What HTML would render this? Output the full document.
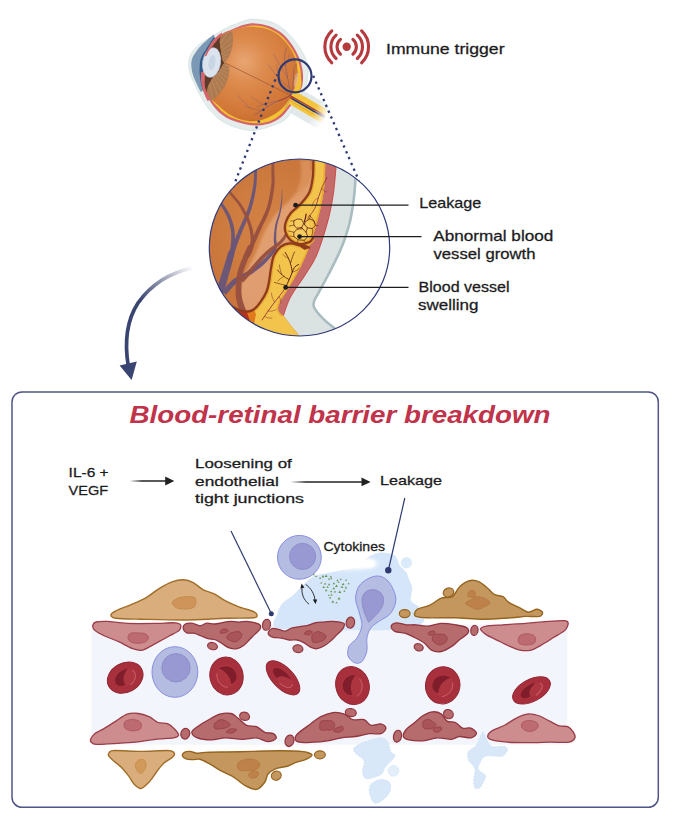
<!DOCTYPE html>
<html>
<head>
<meta charset="utf-8">
<title>Blood-retinal barrier breakdown</title>
<style>
html,body{margin:0;padding:0;background:#fff;}
body{width:676px;height:820px;overflow:hidden;font-family:"Liberation Sans",sans-serif;}
svg{display:block;}
text{font-family:"Liberation Sans",sans-serif;fill:#1c1c1e;stroke:#1c1c1e;stroke-width:0.28px;}
.t14{font-size:14.6px;}
.t13{font-size:13.6px;}
.t12{font-size:13.2px;}
.title{font-size:23.2px;font-weight:bold;font-style:italic;fill:#c0334a;stroke:none;}
</style>
</head>
<body>
<svg width="676" height="820" viewBox="0 0 676 820">
<defs>
<linearGradient id="gcurve" gradientUnits="userSpaceOnUse" x1="193" y1="268" x2="140" y2="300">
<stop offset="0" stop-color="#3a4470" stop-opacity="0"/>
<stop offset="0.35" stop-color="#3a4470" stop-opacity="0.35"/>
<stop offset="1" stop-color="#3a4470" stop-opacity="1"/>
</linearGradient>
<clipPath id="zc"><ellipse cx="299.5" cy="247.5" rx="90.2" ry="88.5"/></clipPath>
<radialGradient id="gor" gradientUnits="userSpaceOnUse" cx="275" cy="230" r="75">
<stop offset="0" stop-color="#d48246"/><stop offset="0.6" stop-color="#ce7c40"/><stop offset="1" stop-color="#c9753b"/>
</radialGradient>
<filter id="b2" x="-20%" y="-20%" width="140%" height="140%"><feGaussianBlur stdDeviation="1.6"/></filter>
<filter id="b1" x="-20%" y="-20%" width="140%" height="140%"><feGaussianBlur stdDeviation="0.8"/></filter><radialGradient id="geye" gradientUnits="userSpaceOnUse" cx="244" cy="62" r="62">
<stop offset="0" stop-color="#e8a672"/><stop offset="0.35" stop-color="#dd8b4e"/><stop offset="0.8" stop-color="#d27838"/><stop offset="1" stop-color="#c96d30"/>
</radialGradient>
<linearGradient id="gnerve" gradientUnits="userSpaceOnUse" x1="313.2" y1="111.5" x2="325.3" y2="118.5">
<stop offset="0" stop-color="#fff" stop-opacity="0"/><stop offset="1" stop-color="#fff" stop-opacity="1"/>
</linearGradient>
<clipPath id="eyeclip"><path id="eyeout" d="M0 0"/></clipPath><filter id="b3" x="-30%" y="-30%" width="160%" height="160%"><feGaussianBlur stdDeviation="2.2"/></filter>
</defs>

<!-- ================= PANEL BOX ================= -->
<rect x="12" y="391.9" width="646.3" height="415.4" rx="10" ry="10" fill="#ffffff" stroke="#4f5585" stroke-width="1.5"/>

<!-- ================= TOP: EYE ================= -->
<g id="eye">
<g>
<path d="M292.9 84.6 L333.6 108.1 L320.7 130.5 L280.0 107.0 Z" fill="#e1e9ea"/>
</g>
<path d="M251.6 19.3 C256.6 19.2 264.4 19.9 270.0 21.7 C275.6 23.5 280.5 26.6 285.0 30.3 C289.5 34.0 293.6 39.3 296.9 43.7 C300.2 48.1 303.0 52.7 304.9 56.9 C306.8 61.1 307.6 65.2 308.0 69.0 C308.4 72.8 308.0 76.2 307.5 79.4 C307.0 82.6 306.2 85.4 305.0 88.1 C303.8 90.8 302.7 91.7 300.5 95.5 C298.3 99.3 294.3 106.9 291.6 111.0 C288.9 115.1 288.0 117.7 284.3 120.3 C280.6 122.9 274.5 124.9 269.6 126.6 C264.8 128.2 260.0 129.8 255.2 130.2 C250.4 130.6 246.0 130.2 240.6 128.8 C235.2 127.4 228.1 124.9 223.0 121.8 C217.9 118.7 213.6 114.2 209.9 110.1 C206.2 105.9 203.6 101.1 201.1 96.9 C198.6 92.8 197.0 89.1 195.2 85.2 C193.4 81.3 191.2 77.2 190.1 73.5 C189.0 69.8 188.4 66.7 188.7 63.3 C188.9 59.9 189.8 56.2 191.6 53.0 C193.4 49.8 196.3 47.0 199.6 44.3 C202.9 41.6 206.9 39.6 211.3 36.9 C215.7 34.2 221.2 30.6 226.0 28.2 C230.8 25.8 235.7 24.0 240.0 22.5 C244.3 21.0 246.6 19.4 251.6 19.3 Z" fill="#e4ecec" stroke="#d3dfdf" stroke-width="0.8"/>
<path d="M213.6 34.4 C211.5 36.2 204.5 41.9 201.2 45.4 C197.9 48.9 195.2 52.4 193.6 55.4 C191.9 58.4 191.5 60.2 191.3 63.3 C191.1 66.4 191.7 70.3 192.6 73.8 C193.5 77.2 195.4 81.0 196.8 84.0 C198.2 87.0 200.1 90.7 200.8 92.0 L204.0 90.0 C203.5 88.2 201.8 82.9 201.2 79.4 C200.6 75.9 200.2 72.5 200.4 69.1 C200.6 65.7 201.5 62.1 202.6 58.9 C203.7 55.7 204.8 53.5 207.0 50.1 C209.2 46.7 214.1 40.4 215.5 38.5 Z" fill="#7b98b4"/>
<path d="M213.6 37.6 C212.4 39.4 208.7 45.1 206.6 48.4 C204.5 51.7 202.3 54.4 201.2 57.4 C200.0 60.4 199.9 63.0 199.7 66.2 C199.5 69.4 199.6 73.4 199.9 76.6 C200.2 79.8 200.9 83.2 201.5 85.6 C202.1 88.0 203.1 90.1 203.4 91.0 L209 86 L207 62 L217 39 Z" fill="#2f5a88"/>
<path d="M255.0 23.4 C259.3 23.6 264.9 24.4 269.6 26.2 C274.3 28.0 279.1 30.7 283.2 34.3 C287.3 37.9 291.2 43.5 294.0 47.8 C296.8 52.1 298.7 56.5 300.1 60.3 C301.5 64.1 302.1 67.4 302.6 70.6 C303.1 73.8 303.2 76.5 303.0 79.4 C302.8 82.3 302.7 85.0 301.5 88.1 C300.3 91.2 297.9 94.9 296.0 98.0 C294.1 101.1 292.6 103.5 290.1 106.7 C287.7 109.9 284.7 114.2 281.3 117.0 C277.9 119.8 274.0 122.2 269.6 123.6 C265.2 125.0 259.8 125.7 255.0 125.6 C250.2 125.5 245.4 124.3 240.6 123.0 C235.8 121.7 230.3 120.1 226.0 117.5 C221.7 114.9 217.7 111.2 214.5 107.5 C211.3 103.8 208.8 99.1 207.0 95.0 C205.2 90.9 204.1 87.1 203.4 83.0 C202.7 78.9 202.9 74.4 203.0 70.6 C203.1 66.8 203.4 63.6 204.2 60.3 C205.0 57.0 206.3 54.2 208.0 51.0 C209.7 47.8 211.9 43.8 214.2 41.0 C216.5 38.2 218.9 36.0 222.0 34.0 C225.1 32.0 229.3 30.5 233.0 29.0 C236.7 27.5 240.3 25.7 244.0 24.8 C247.7 23.9 250.7 23.2 255.0 23.4 Z" fill="#d5656a"/>
<path d="M255.0 25.6 C259.2 25.8 264.5 26.7 269.0 28.4 C273.5 30.1 278.0 32.6 281.8 36.0 C285.6 39.4 289.3 44.7 292.0 48.8 C294.7 52.9 296.6 57.0 298.0 60.6 C299.4 64.2 300.0 67.5 300.5 70.6 C301.0 73.7 300.9 76.7 300.8 79.4 C300.7 82.1 300.7 84.0 299.6 87.0 C298.5 90.0 295.9 94.4 294.0 97.5 C292.1 100.6 290.8 102.6 288.5 105.5 C286.2 108.4 283.2 112.3 280.0 115.0 C276.8 117.7 273.2 120.0 269.0 121.4 C264.8 122.8 259.7 123.4 255.0 123.3 C250.3 123.2 245.6 122.1 241.0 120.8 C236.4 119.5 231.6 118.1 227.5 115.6 C223.4 113.1 219.2 108.9 216.5 106.0 C213.8 103.1 211.8 100.7 211.0 98.0 C210.2 95.3 211.3 96.3 212.0 90.0 C212.7 83.7 213.7 68.7 215.0 60.0 C216.3 51.3 217.2 42.8 220.0 38.0 C222.8 33.2 228.0 32.8 232.0 31.0 C236.0 29.2 240.2 27.9 244.0 27.0 C247.8 26.1 250.8 25.4 255.0 25.6 Z" fill="#f2c232"/>
<path d="M298 72 C302 76 302.5 85 299.5 91 L294 96 L292 84 Z" fill="#f2c232"/>
<path d="M251.6 26.8 C255.4 27.0 261.4 27.4 266.0 28.8 C270.6 30.2 275.1 32.5 279.0 35.5 C282.9 38.5 286.5 42.9 289.3 46.8 C292.1 50.7 294.2 55.1 295.6 59.0 C297.0 62.9 297.2 66.5 297.4 70.0 C297.6 73.5 297.5 76.3 296.8 80.0 C296.1 83.7 295.0 88.0 293.2 92.0 C291.4 96.0 288.7 100.6 286.0 104.0 C283.3 107.4 280.3 110.2 277.0 112.6 C273.7 115.0 269.8 117.0 266.0 118.4 C262.2 119.8 258.2 121.0 254.0 121.2 C249.8 121.4 245.2 120.6 241.0 119.4 C236.8 118.2 232.7 116.4 229.0 114.2 C225.3 112.0 221.8 108.5 219.0 106.0 C216.2 103.5 214.0 101.9 212.0 99.4 C210.0 96.9 207.6 93.4 207.0 91.0 C206.4 88.6 207.4 87.4 208.4 85.2 C209.4 83.0 211.1 80.1 212.8 77.9 C214.5 75.7 216.8 74.4 218.6 72.0 C220.4 69.6 223.2 65.5 223.8 63.3 C224.4 61.1 222.8 61.3 222.3 58.9 C221.8 56.5 221.3 51.5 220.8 48.6 C220.3 45.7 219.3 43.5 219.4 41.3 C219.5 39.1 219.3 37.4 221.6 35.5 C223.9 33.6 229.7 31.4 233.3 30.0 C236.9 28.6 239.9 27.9 243.0 27.4 C246.1 26.9 247.8 26.6 251.6 26.8 Z" fill="url(#geye)"/>
<path d="M294.5 90.8 L331.3 112.1 L324.2 124.4 L287.4 103.1 Z" fill="#f3c53e"/>
<path d="M289.3 99.8 L326.1 121.1 L325.7 121.8 L288.9 100.5 Z" fill="#e2a92e"/>
<path d="M292.2 95.9 L328.6 116.9 L328.0 117.9 L291.6 96.9 Z" fill="#a9352d"/>
<path d="M291.5 97.2 L327.8 118.2 L326.9 119.8 L290.5 98.8 Z" fill="#2c3a7a"/>
<path d="M321.2 97.7 L340.2 108.2 L324.2 135.9 L305.2 125.4 Z" fill="url(#gnerve)"/>
<circle cx="291.6" cy="97.6" r="1.6" fill="#b8401c"/>
<path d="M214.3 39.5 L221.6 35.5 L220.2 46 L222.6 59 L224.5 62.8 L219 71.5 L212.5 78 L208 86 L207 93 L204.5 89 L205 72 L208 52 Z" fill="#5e3b29"/>
<path d="M221.6 35.5 C223.0 34.3 230.5 31.1 231.8 31.4 C233.1 31.7 232.9 36.3 233.0 38.0 C233.1 39.7 232.9 43.9 232.5 46.0 C232.1 48.1 230.4 54.1 229.5 56.0 C228.6 57.9 225.3 62.1 224.5 62.4 C223.7 62.7 222.7 60.5 222.3 58.9 C221.9 57.3 221.1 50.7 220.8 48.6 C220.5 46.5 219.5 42.8 219.6 41.3 C219.7 39.8 220.2 36.7 221.6 35.5 Z" fill="#ae7a50"/>
<path d="M224.0 63.4 C225.2 62.9 228.7 66.2 229.2 67.7 C229.7 69.2 229.0 73.9 228.5 76.0 C228.0 78.1 226.1 83.9 225.0 86.0 C223.9 88.1 220.5 92.3 219.0 94.0 C217.5 95.7 213.4 100.7 212.0 100.5 C210.6 100.3 207.6 93.8 207.2 92.0 C206.8 90.2 207.9 86.8 208.6 85.2 C209.3 83.6 211.6 79.4 212.8 77.9 C214.0 76.4 217.3 73.7 218.6 72.0 C219.9 70.3 222.8 63.9 224.0 63.4 Z" fill="#ae7a50"/>
<clipPath id="fanu"><path d="M221.6 35.5 C223.0 34.3 230.5 31.1 231.8 31.4 C233.1 31.7 232.9 36.3 233.0 38.0 C233.1 39.7 232.9 43.9 232.5 46.0 C232.1 48.1 230.4 54.1 229.5 56.0 C228.6 57.9 225.3 62.1 224.5 62.4 C223.7 62.7 222.7 60.5 222.3 58.9 C221.9 57.3 221.1 50.7 220.8 48.6 C220.5 46.5 219.5 42.8 219.6 41.3 C219.7 39.8 220.2 36.7 221.6 35.5 Z"/></clipPath><clipPath id="fanl"><path d="M224.0 63.4 C225.2 62.9 228.7 66.2 229.2 67.7 C229.7 69.2 229.0 73.9 228.5 76.0 C228.0 78.1 226.1 83.9 225.0 86.0 C223.9 88.1 220.5 92.3 219.0 94.0 C217.5 95.7 213.4 100.7 212.0 100.5 C210.6 100.3 207.6 93.8 207.2 92.0 C206.8 90.2 207.9 86.8 208.6 85.2 C209.3 83.6 211.6 79.4 212.8 77.9 C214.0 76.4 217.3 73.7 218.6 72.0 C219.9 70.3 222.8 63.9 224.0 63.4 Z"/></clipPath>
<path d="M209.8 55.4 L224.8 27.2 M210.8 56.1 L229.8 30.3 M211.7 56.8 L234.3 34.2 M212.4 57.7 L238.2 38.7 M213.1 58.7 L241.3 43.7 M213.5 59.8 L243.7 49.1 M213.9 61.0 L245.3 54.9 M214.0 62.2 L246.0 60.8" clip-path="url(#fanu)" fill="none" stroke="#c79e78" stroke-width="0.6" opacity="0.75"/>
<path d="M213.9 63.6 L251.6 68.9 M213.7 64.8 L250.0 75.9 M213.2 66.0 L247.3 82.7 M212.6 67.1 L243.7 88.9 M211.8 68.1 L239.1 94.5 M210.8 68.9 L233.7 99.2 M209.8 69.6 L227.6 103.1 M208.6 70.1 L221.0 106.0 M207.4 70.4 L214.0 107.8 M206.1 70.5 L206.8 108.5" clip-path="url(#fanl)" fill="none" stroke="#c79e78" stroke-width="0.6" opacity="0.75"/>
<g transform="rotate(9 211.6 62.5)"><ellipse cx="211.6" cy="62.5" rx="8.9" ry="14.9" fill="#dbe4ee" stroke="#c3cfdd" stroke-width="0.7"/><ellipse cx="212" cy="62.5" rx="3.4" ry="7.5" fill="#c7d2e3" opacity="0.9"/></g>
<path d="M222 32.5 C219 34.5 216 37 213.4 39.8 C210.5 43.5 207.8 48.5 205.6 53.5 L204.2 56.5 L206.6 55.8 C208 52 210 48.8 212.4 46.8 C213.4 44.4 215 42.6 216.4 41.2 C217.6 39 219.4 37.4 221.4 36.2 Z" fill="#d5656a"/>
<path d="M203 72 C202.8 78 203.8 84.5 206 90 C207.2 93.5 208.6 96.6 210.4 99.4 L207.6 101 C204.6 95.5 202.4 89.5 201.4 83.5 C200.8 79.5 200.8 75.5 201.2 72 Z" fill="#d5656a"/>
<ellipse cx="296.2" cy="80" rx="1.8" ry="7.5" fill="#eab58a" opacity="0.85" transform="rotate(8 296 80)"/>
<line x1="224.5" y1="62.6" x2="291" y2="95.5" stroke="#9a5733" stroke-width="0.7"/>
<path d="M291 95 C289 84 286 72 284.5 59 C284.8 54 285.6 51 286.4 48" fill="none" stroke="#5a4a8c" stroke-width="0.7" stroke-linecap="round" opacity="0.6"/>
<path d="M287.8 78 C283 70 278 62 274 54.5" fill="none" stroke="#5a4a8c" stroke-width="0.5" stroke-linecap="round" opacity="0.6"/>
<path d="M285.5 66 C287.5 62 288.5 59 288.8 55" fill="none" stroke="#5a4a8c" stroke-width="0.4" stroke-linecap="round" opacity="0.6"/>
<path d="M289.5 88 C282 82 274 73 268.2 64.7" fill="none" stroke="#5a4a8c" stroke-width="0.5" stroke-linecap="round" opacity="0.6"/>
<path d="M280 78.5 C278 73 276.5 69 276.5 65" fill="none" stroke="#5a4a8c" stroke-width="0.4" stroke-linecap="round" opacity="0.6"/>
<path d="M291 95 C293 88 294 80 293.5 72 C293.8 68 295 66 296.5 64" fill="none" stroke="#5a4a8c" stroke-width="0.6" stroke-linecap="round" opacity="0.6"/>
<path d="M293.6 80 C296 78 297 75 297.5 72" fill="none" stroke="#5a4a8c" stroke-width="0.4" stroke-linecap="round" opacity="0.6"/>
<path d="M291 95 C286 98 281 100 277 101.3 C271 104.5 266 107.5 262.3 110.1 C259 112 257 113.5 255 114.5" fill="none" stroke="#5a4a8c" stroke-width="0.7" stroke-linecap="round" opacity="0.6"/>
<path d="M277 101.3 C270 102 263 104 257 107" fill="none" stroke="#5a4a8c" stroke-width="0.5" stroke-linecap="round" opacity="0.6"/>
<path d="M268 106.4 C262 104 256 101 250.8 96" fill="none" stroke="#5a4a8c" stroke-width="0.4" stroke-linecap="round" opacity="0.6"/>
<path d="M262.3 110.1 C256 110 250 108.5 245 106" fill="none" stroke="#5a4a8c" stroke-width="0.4" stroke-linecap="round" opacity="0.6"/>
<path d="M250.8 108.6 C246 105 242 100 237.6 95.4" fill="none" stroke="#5a4a8c" stroke-width="0.4" stroke-linecap="round" opacity="0.6"/>
<path d="M291 95 C290 100 288 104 285 108" fill="none" stroke="#5a4a8c" stroke-width="0.5" stroke-linecap="round" opacity="0.6"/>
<path d="M291 95 C286.5 97.8 282 99.8 278 101" fill="none" stroke="#a9352d" stroke-width="0.8"/>
<circle cx="295" cy="75.9" r="16.5" fill="none" stroke="#2d3a73" stroke-width="2.2"/>
</g>

<!-- ================= IMMUNE TRIGGER ICON ================= -->
<g id="trigger">
<circle cx="346.7" cy="46.8" r="4.2" fill="#b6393e"/>
<path d="M340.5 54.2 A9.6 9.6 0 0 1 340.5 39.4 M352.9 39.4 A9.6 9.6 0 0 1 352.9 54.2 M336.1 58.5 A15.8 15.8 0 0 1 336.1 35.1 M357.3 35.1 A15.8 15.8 0 0 1 357.3 58.5 M331.8 62.8 A21.9 21.9 0 0 1 331.8 30.8 M361.6 30.8 A21.9 21.9 0 0 1 361.6 62.8" fill="none" stroke="#b6393e" stroke-width="3.1" stroke-linecap="round"/>
</g>

<!-- ================= BIG ZOOM CIRCLE ================= -->
<g id="zoom">
<ellipse cx="299.5" cy="247.5" rx="90.2" ry="88.5" fill="url(#gor)"/>
<g clip-path="url(#zc)">
<path d="M311.0 170.0 C309.9 171.5 310.2 180.2 306.5 185.5 C302.8 190.8 294.1 196.5 288.8 201.5 C283.5 206.5 278.8 210.4 274.6 215.7 C270.5 221.0 266.8 227.7 263.9 233.4 C261.0 239.1 259.6 244.2 257.0 250.0 C254.3 255.8 250.7 262.2 248.0 268.0 C245.3 273.8 242.3 279.7 241.0 285.0 C239.7 290.3 239.2 295.7 240.0 300.0 C240.8 304.3 243.5 309.5 246.0 311.0 C248.5 312.5 252.6 310.7 255.0 309.2 C257.4 307.7 258.5 305.1 260.4 302.1 C262.3 299.2 265.1 295.1 266.6 291.5 C268.1 287.9 268.5 284.7 269.2 280.8 C269.9 276.9 270.2 272.5 271.0 268.4 C271.8 264.3 272.1 259.6 273.7 256.0 C275.3 252.4 277.8 248.9 280.5 246.8 C283.2 244.7 289.2 245.9 290.0 243.4 C290.8 240.9 286.1 235.1 285.4 231.7 C284.7 228.3 284.7 225.9 285.6 222.8 C286.5 219.7 288.3 216.1 290.8 213.0 C293.3 209.9 297.5 207.5 300.6 204.0 C303.7 200.5 307.4 196.6 309.5 192.0 C311.6 187.4 312.6 180.3 312.9 176.6 C313.1 172.9 312.1 168.5 311.0 170.0 Z" fill="#e5a77c" opacity="0.8" filter="url(#b2)"/>
<path d="M300 160 C303 175 300 190 290 200 L300 202 C309 190 312 175 311 160 Z" fill="#e09a66" opacity="0.7" filter="url(#b2)"/>
<path d="M254.7 156.0 C254.6 158.6 254.5 166.8 254.2 171.9 C253.9 177.1 254.1 180.7 253.1 186.8 C252.0 192.8 250.4 201.0 248.0 208.1 C245.7 215.1 241.6 223.0 239.0 229.2 C236.4 235.4 234.6 239.8 232.6 245.2 C230.7 250.6 228.2 258.6 227.3 261.3 L231.7 262.7 C232.5 260.0 234.8 251.9 236.6 246.6 C238.4 241.3 240.1 236.9 242.6 230.6 C245.1 224.4 249.1 216.4 251.4 209.1 C253.6 201.9 255.2 193.4 256.1 187.2 C257.1 181.1 256.8 177.3 257.0 172.1 C257.1 166.9 257.1 158.7 257.1 156.0 Z" fill="#69557a" opacity="0.96"/>
<path d="M212.9 193.7 C214.0 195.3 216.8 199.4 219.2 203.2 C221.5 207.0 225.0 211.9 226.9 216.4 C228.9 220.9 230.2 225.3 230.8 230.1 C231.5 235.0 231.4 240.4 230.7 245.7 C229.9 250.9 227.2 258.8 226.5 261.5 L230.5 262.5 C231.2 259.8 233.9 251.6 234.5 246.1 C235.2 240.7 235.1 234.8 234.4 229.7 C233.6 224.5 232.0 219.7 229.9 215.0 C227.8 210.4 224.1 205.4 221.6 201.6 C219.2 197.8 216.2 193.8 215.1 192.3 Z" fill="#69557a" opacity="0.96"/>
<path d="M228.4 251.2 C227.9 253.0 226.5 258.3 225.3 262.1 C224.2 265.9 222.7 270.4 221.6 274.0 C220.4 277.5 220.0 279.1 218.6 283.2 C217.2 287.4 214.1 296.2 213.2 298.7 L220.8 301.3 C221.6 298.6 224.5 289.8 225.8 285.6 C227.1 281.4 227.4 279.6 228.4 276.0 C229.5 272.4 230.8 267.8 231.9 263.9 C232.9 260.1 234.1 254.7 234.6 252.8 Z" fill="#69557a" opacity="0.96"/>
<path d="M281.8 189.5 C281.7 191.2 281.8 196.2 281.3 200.0 C280.9 203.7 280.3 207.8 279.3 211.8 C278.3 215.9 276.3 220.1 275.3 224.4 C274.4 228.8 274.0 234.3 273.8 238.0 C273.5 241.7 274.7 244.1 274.0 246.6 C273.4 249.2 272.1 250.3 269.7 253.1 C267.2 255.9 262.9 260.2 259.1 263.4 C255.3 266.5 251.0 269.2 246.8 271.8 C242.6 274.4 238.0 275.6 233.9 278.8 C229.8 282.0 224.0 289.0 222.0 291.1 L226.0 294.9 C227.9 292.9 233.2 286.0 237.1 282.8 C241.0 279.6 245.1 278.3 249.2 275.6 C253.3 272.9 257.9 269.8 261.7 266.4 C265.6 263.1 269.8 258.5 272.3 255.3 C274.9 252.2 276.3 250.2 277.0 247.4 C277.6 244.5 276.2 241.8 276.2 238.0 C276.3 234.3 276.5 229.1 277.3 224.8 C278.0 220.5 279.9 216.3 280.7 212.2 C281.5 208.0 282.0 203.8 282.3 200.0 C282.5 196.3 282.2 191.3 282.2 189.5 Z" fill="#69557a" opacity="0.96"/>
<path d="M271.5 156.0 C271.5 158.7 271.5 167.1 271.4 172.0 C271.4 176.9 272.0 179.3 271.2 185.3 C270.4 191.3 269.0 200.8 266.6 208.1 C264.2 215.4 259.6 222.9 256.8 229.1 C254.0 235.3 251.6 240.5 249.6 245.0 C247.5 249.5 245.3 254.2 244.4 256.1 L248.6 257.9 C249.4 256.1 251.5 251.3 253.4 246.8 C255.4 242.2 257.6 237.0 260.4 230.7 C263.2 224.4 267.7 216.6 270.0 209.1 C272.4 201.6 273.7 191.9 274.4 185.7 C275.1 179.5 274.4 177.0 274.4 172.0 C274.3 167.0 274.1 158.7 274.1 156.0 Z" fill="#97503f" opacity="0.96"/>
<path d="M223.0 184.7 C223.9 186.0 225.8 189.3 228.3 192.5 C230.7 195.7 235.0 199.8 237.8 204.1 C240.7 208.4 243.6 213.5 245.6 218.1 C247.6 222.8 249.1 227.4 249.9 232.0 C250.7 236.6 250.9 241.9 250.3 245.8 C249.7 249.7 247.0 253.7 246.3 255.3 L249.7 256.7 C250.3 254.9 253.1 250.4 253.7 246.2 C254.3 242.0 254.0 236.3 253.1 231.4 C252.2 226.5 250.5 221.7 248.4 216.9 C246.2 212.1 243.2 206.8 240.2 202.5 C237.1 198.2 232.9 194.1 230.3 190.9 C227.8 187.7 225.9 184.6 225.0 183.3 Z" fill="#97503f" opacity="0.96"/>
<path d="M248.2 245.0 C247.5 246.7 245.6 250.4 243.7 255.1 C241.9 259.8 238.6 266.7 237.3 273.1 C235.9 279.5 235.4 287.6 235.7 293.4 C235.9 299.3 237.4 304.2 238.8 308.5 C240.2 312.8 243.3 317.6 244.1 319.4 L249.9 316.6 C249.0 314.9 246.0 310.4 244.6 306.5 C243.2 302.6 241.8 298.5 241.5 293.2 C241.2 287.8 241.5 280.3 242.7 274.3 C243.9 268.2 247.0 261.5 248.7 256.9 C250.3 252.4 252.1 248.6 252.8 247.0 Z" fill="#97503f" opacity="0.96"/>
<path d="M284.9 233.4 C284.4 234.1 283.6 236.3 282.2 237.9 C280.9 239.6 279.0 241.6 277.0 243.3 C274.9 245.0 272.9 245.6 269.9 248.1 C266.9 250.6 262.6 254.4 259.0 258.2 C255.4 262.0 251.4 267.1 248.2 270.6 C245.0 274.2 241.3 278.0 239.9 279.5 L243.1 282.5 C244.5 281.0 248.1 277.0 251.2 273.4 C254.3 269.7 258.3 264.6 261.8 260.8 C265.3 257.0 269.3 253.2 272.1 250.7 C275.0 248.2 277.0 247.6 279.0 245.7 C281.1 243.9 283.2 241.5 284.6 239.7 C285.9 237.8 286.7 235.5 287.1 234.6 Z" fill="#97503f" opacity="0.96"/>
<path d="M236 309 C244 312.5 250 312 256 309 L257 325 L246 322 Z" fill="#b5331c"/>
<path d="M247 312.5 C251 312.5 254 311 256.5 308.5 L257.5 326 L251 324 Z" fill="#e07a1c"/>
<path d="M313.8 156.0 C313.7 156.9 313.5 158.1 313.4 161.5 C313.2 164.9 313.5 171.5 312.9 176.6 C312.2 181.7 311.6 187.4 309.5 192.0 C307.4 196.6 303.7 200.5 300.6 204.0 C297.5 207.5 293.3 209.9 290.8 213.0 C288.3 216.1 286.5 219.7 285.6 222.8 C284.7 225.9 284.5 228.8 285.4 231.7 C286.2 234.6 288.2 238.2 290.7 240.3 C293.2 242.4 298.9 243.5 300.5 244.2 C301.4 244.4 305.1 245.3 306.0 245.5 C305.2 245.6 303.7 246.2 301.0 245.8 C298.3 245.5 293.4 243.2 290.0 243.4 C286.6 243.6 283.2 244.7 280.5 246.8 C277.8 248.9 275.3 252.4 273.7 256.0 C272.1 259.6 271.8 264.3 271.0 268.4 C270.2 272.5 269.9 276.9 269.2 280.8 C268.5 284.7 268.1 287.9 266.6 291.5 C265.1 295.1 262.5 299.2 260.4 302.1 C258.3 305.1 255.1 308.0 254.0 309.2 L256 314.6 L254 324 L262 336 L303 342 L299.4 336 L290.5 325.2 L283.4 315.6 L340 300 L340 150 Z" fill="#f3c44c"/>
<clipPath id="yclip"><path d="M313.8 156.0 C313.7 156.9 313.5 158.1 313.4 161.5 C313.2 164.9 313.5 171.5 312.9 176.6 C312.2 181.7 311.6 187.4 309.5 192.0 C307.4 196.6 303.7 200.5 300.6 204.0 C297.5 207.5 293.3 209.9 290.8 213.0 C288.3 216.1 286.5 219.7 285.6 222.8 C284.7 225.9 284.5 228.8 285.4 231.7 C286.2 234.6 288.2 238.2 290.7 240.3 C293.2 242.4 298.9 243.5 300.5 244.2 C301.4 244.4 305.1 245.3 306.0 245.5 C305.2 245.6 303.7 246.2 301.0 245.8 C298.3 245.5 293.4 243.2 290.0 243.4 C286.6 243.6 283.2 244.7 280.5 246.8 C277.8 248.9 275.3 252.4 273.7 256.0 C272.1 259.6 271.8 264.3 271.0 268.4 C270.2 272.5 269.9 276.9 269.2 280.8 C268.5 284.7 268.1 287.9 266.6 291.5 C265.1 295.1 262.5 299.2 260.4 302.1 C258.3 305.1 255.1 308.0 254.0 309.2 L256 314.6 L254 324 L262 336 L303 342 L299.4 336 L290.5 325.2 L283.4 315.6 L340 300 L340 150 Z"/></clipPath>
<ellipse cx="300" cy="229" rx="10" ry="11" fill="#f7d36a" opacity="0.6"/>
<path d="M336.3 158.0 C336.2 159.8 336.4 162.5 335.9 168.6 C335.4 174.7 334.5 186.2 333.3 194.4 C332.1 202.6 330.6 210.1 328.8 217.5 C327.0 224.9 324.8 232.1 322.6 238.8 C320.4 245.5 318.4 251.7 315.5 257.8 C312.6 263.9 309.0 269.0 304.9 275.5 C300.8 282.0 294.3 290.1 290.7 296.8 C287.1 303.5 284.6 312.5 283.4 315.6 C284.6 317.2 287.8 321.8 290.5 325.2 C293.2 328.6 297.3 333.2 299.4 336.0 C301.5 338.8 302.4 341.0 303.0 342.0 L420 342 L420 150 Z" fill="#dae2e2"/>
<path d="M356.0 170.0 C355.9 171.7 355.8 175.2 355.4 180.2 C355.0 185.1 354.6 192.9 353.7 199.7 C352.8 206.5 351.6 214.5 350.1 221.0 C348.6 227.5 346.4 234.0 344.8 238.8 C343.2 243.6 341.7 246.8 340.4 250.0 C339.1 253.2 338.9 253.6 336.8 257.8 C334.7 262.1 331.0 269.6 327.9 275.5 C324.8 281.4 320.5 289.1 318.2 293.3 C315.9 297.6 314.9 298.6 314.2 301.0 C313.5 303.4 312.8 304.6 314.2 307.5 C315.6 310.4 319.1 314.6 322.6 318.1 C326.1 321.7 331.3 325.7 335.0 328.8 C338.7 331.9 343.3 335.6 345.0 337.0 L420 342 L420 150 Z" fill="#ffffff"/>
<path d="M356.0 170.0 C355.9 171.7 355.8 175.2 355.4 180.2 C355.0 185.1 354.6 192.9 353.7 199.7 C352.8 206.5 351.6 214.5 350.1 221.0 C348.6 227.5 346.4 234.0 344.8 238.8 C343.2 243.6 341.7 246.8 340.4 250.0 C339.1 253.2 338.9 253.6 336.8 257.8 C334.7 262.1 331.0 269.6 327.9 275.5 C324.8 281.4 320.5 289.1 318.2 293.3 C315.9 297.6 314.9 298.6 314.2 301.0 C313.5 303.4 312.8 304.6 314.2 307.5 C315.6 310.4 319.1 314.6 322.6 318.1 C326.1 321.7 331.3 325.7 335.0 328.8 C338.7 331.9 343.3 335.6 345.0 337.0" fill="none" stroke="#a9bcc0" stroke-width="2.6"/>
<path d="M325.6 156.0 C325.6 157.5 325.5 160.2 325.3 165.1 C325.1 170.0 325.0 179.1 324.4 185.5 C323.8 191.9 322.9 197.4 321.7 203.3 C320.5 209.2 318.9 215.1 317.3 221.0 C315.7 226.9 314.1 232.7 312.0 238.8 C309.9 244.9 307.6 251.7 304.9 257.8 C302.2 263.9 299.3 269.6 296.0 275.5 C292.7 281.4 288.0 288.9 285.3 293.3 C282.6 297.7 281.1 299.5 279.9 302.1 C278.7 304.8 278.0 307.2 278.1 309.2 C278.2 311.2 279.9 313.1 280.8 314.2 C281.7 315.3 283.0 315.4 283.4 315.6 L283.4 315.6 C284.6 312.5 287.1 303.5 290.7 296.8 C294.3 290.1 300.8 282.0 304.9 275.5 C309.0 269.0 312.6 263.9 315.5 257.8 C318.4 251.7 320.4 245.5 322.6 238.8 C324.8 232.1 327.0 224.9 328.8 217.5 C330.6 210.1 332.1 202.6 333.3 194.4 C334.5 186.2 335.4 174.7 335.9 168.6 C336.4 162.5 336.2 159.8 336.3 158.0 Z" fill="#c56b6a"/>
<path d="M336.3 158.0 C336.2 159.8 336.4 162.5 335.9 168.6 C335.4 174.7 334.5 186.2 333.3 194.4 C332.1 202.6 330.6 210.1 328.8 217.5 C327.0 224.9 324.8 232.1 322.6 238.8 C320.4 245.5 318.4 251.7 315.5 257.8 C312.6 263.9 309.0 269.0 304.9 275.5 C300.8 282.0 294.3 290.1 290.7 296.8 C287.1 303.5 284.6 312.5 283.4 315.6" fill="none" stroke="#c63a40" stroke-width="0.8"/>
<path d="M325.6 156.0 C325.6 157.5 325.5 160.2 325.3 165.1 C325.1 170.0 325.0 179.1 324.4 185.5 C323.8 191.9 322.9 197.4 321.7 203.3 C320.5 209.2 318.9 215.1 317.3 221.0 C315.7 226.9 314.1 232.7 312.0 238.8 C309.9 244.9 307.6 251.7 304.9 257.8 C302.2 263.9 299.3 269.6 296.0 275.5 C292.7 281.4 288.0 288.9 285.3 293.3 C282.6 297.7 281.1 299.5 279.9 302.1 C278.7 304.8 278.0 307.2 278.1 309.2 C278.2 311.2 279.9 313.1 280.8 314.2 C281.7 315.3 283.0 315.4 283.4 315.6" fill="none" stroke="#e6ae2c" stroke-width="1.5" transform="translate(-0.8 0)"/>
<path d="M283.4 315.6 C284.6 317.2 287.8 321.8 290.5 325.2 C293.2 328.6 297.3 333.2 299.4 336.0 C301.5 338.8 302.4 341.0 303.0 342.0" fill="none" stroke="#e8b850" stroke-width="0.8"/>
<g clip-path="url(#yclip)"><path d="M313.8 156.0 C313.7 156.9 313.5 158.1 313.4 161.5 C313.2 164.9 313.5 171.5 312.9 176.6 C312.2 181.7 311.6 187.4 309.5 192.0 C307.4 196.6 303.7 200.5 300.6 204.0 C297.5 207.5 293.3 209.9 290.8 213.0 C288.3 216.1 286.5 219.7 285.6 222.8 C284.7 225.9 284.5 228.8 285.4 231.7 C286.2 234.6 288.2 238.2 290.7 240.3 C293.2 242.4 297.4 243.9 300.5 244.2 C303.6 244.5 307.4 243.0 309.5 242.0 C311.6 241.0 312.4 238.7 313.0 238.0" fill="none" stroke="#e7ab36" stroke-width="5"/><path d="M309.0 247.5 C307.7 247.2 304.2 246.5 301.0 245.8 C297.8 245.1 293.4 243.2 290.0 243.4 C286.6 243.6 283.2 244.7 280.5 246.8 C277.8 248.9 275.3 252.4 273.7 256.0 C272.1 259.6 271.8 264.3 271.0 268.4 C270.2 272.5 269.9 276.9 269.2 280.8 C268.5 284.7 268.1 287.9 266.6 291.5 C265.1 295.1 262.5 299.2 260.4 302.1 C258.3 305.1 256.4 307.6 254.0 309.2 C251.6 310.8 248.7 311.6 246.0 311.6 C243.3 311.7 241.0 310.8 238.0 309.5 C235.0 308.2 229.7 304.9 228.0 304.0" fill="none" stroke="#e7ab36" stroke-width="5"/></g>
<path d="M300.2 244.4 L307.5 245.6 L309.6 247.6 L304.5 250 L301 247.4 Z" fill="#8e3b1d"/>
<path d="M313.8 156.0 C313.7 156.9 313.5 158.1 313.4 161.5 C313.2 164.9 313.5 171.5 312.9 176.6 C312.2 181.7 311.6 187.4 309.5 192.0 C307.4 196.6 303.7 200.5 300.6 204.0 C297.5 207.5 293.3 209.9 290.8 213.0 C288.3 216.1 286.5 219.7 285.6 222.8 C284.7 225.9 284.5 228.8 285.4 231.7 C286.2 234.6 288.2 238.2 290.7 240.3 C293.2 242.4 297.4 243.9 300.5 244.2 C303.6 244.5 307.4 243.0 309.5 242.0 C311.6 241.0 312.4 238.7 313.0 238.0" fill="none" stroke="#8e3b1d" stroke-width="2.3" stroke-linecap="round"/>
<path d="M309.0 247.5 C307.7 247.2 304.2 246.5 301.0 245.8 C297.8 245.1 293.4 243.2 290.0 243.4 C286.6 243.6 283.2 244.7 280.5 246.8 C277.8 248.9 275.3 252.4 273.7 256.0 C272.1 259.6 271.8 264.3 271.0 268.4 C270.2 272.5 269.9 276.9 269.2 280.8 C268.5 284.7 268.1 287.9 266.6 291.5 C265.1 295.1 262.5 299.2 260.4 302.1 C258.3 305.1 256.4 307.6 254.0 309.2 C251.6 310.8 248.7 311.6 246.0 311.6 C243.3 311.7 241.0 310.8 238.0 309.5 C235.0 308.2 229.7 304.9 228.0 304.0" fill="none" stroke="#8e3b1d" stroke-width="2.3" stroke-linecap="round"/>
<path d="M327 177.5 C324 183 322.5 186 321.7 188.2 C320 193 319 196 318.2 198 C317 203 316 206 314.6 208.6 C313 212 311 214 309.3 215.7 C308.5 217 308 218 307.8 219" fill="none" stroke="#8a2b3a" stroke-width="0.8" stroke-linecap="round"/>
<path d="M321.7 188.2 C323 191 325 192 327 192" fill="none" stroke="#8a2b3a" stroke-width="0.5" stroke-linecap="round"/>
<path d="M318.2 198 C315 199 313 202 312 206" fill="none" stroke="#8a2b3a" stroke-width="0.5" stroke-linecap="round"/>
<path d="M309.3 215.7 C312 217 314 220 314.5 224" fill="none" stroke="#5e1c12" stroke-width="0.5" stroke-linecap="round"/>
<path d="M294.1 220.7 L297.2 219 L301.6 219.4 L303.8 223.4 L301.6 227.4 L296.7 228.3 L294.1 225.2 Z" fill="none" stroke="#5e1c12" stroke-width="0.8" stroke-linecap="round"/>
<path d="M305.6 221.6 L309.6 219 L314 220.7 L315.4 225.2 L312.3 228.7 L307.4 227.8 L304.7 224.7 Z" fill="none" stroke="#5e1c12" stroke-width="0.8" stroke-linecap="round"/>
<path d="M294.1 232.3 L297.2 229.2 L302.5 228.7 L306.1 232.3 L307.8 236.7 L304.3 240.3 L298.1 239.8 L294.1 236.7 Z" fill="none" stroke="#5e1c12" stroke-width="0.8" stroke-linecap="round"/>
<path d="M303.8 223.4 L304.7 224.7" fill="none" stroke="#5e1c12" stroke-width="0.9" stroke-linecap="round"/>
<path d="M301.6 227.4 L302.5 228.7" fill="none" stroke="#5e1c12" stroke-width="0.9" stroke-linecap="round"/>
<path d="M307.4 227.8 L306.1 232.3" fill="none" stroke="#5e1c12" stroke-width="0.8" stroke-linecap="round"/>
<path d="M306.1 214.1 C305.8 217 305.2 219.5 304.3 222" fill="none" stroke="#5e1c12" stroke-width="1.2" stroke-linecap="round"/>
<path d="M289.2 226 L294.1 225.2" fill="none" stroke="#5e1c12" stroke-width="0.6" stroke-linecap="round"/>
<path d="M288.6 231 L294.1 232.3" fill="none" stroke="#5e1c12" stroke-width="0.6" stroke-linecap="round"/>
<path d="M290.5 221 L294.1 220.7" fill="none" stroke="#5e1c12" stroke-width="0.5" stroke-linecap="round"/>
<path d="M290 236 L294.1 236.7" fill="none" stroke="#5e1c12" stroke-width="0.5" stroke-linecap="round"/>
<path d="M312.3 228.7 C313 231 312.8 233.5 311.6 236" fill="none" stroke="#5e1c12" stroke-width="0.6" stroke-linecap="round"/>
<path d="M315.4 225.2 L318 225.6" fill="none" stroke="#5e1c12" stroke-width="0.5" stroke-linecap="round"/>
<path d="M309.6 219 L310.5 215.4" fill="none" stroke="#5e1c12" stroke-width="0.6" stroke-linecap="round"/>
<path d="M304.3 240.3 L305.5 242.6" fill="none" stroke="#5e1c12" stroke-width="0.5" stroke-linecap="round"/>
<path d="M298.1 239.8 L297 242" fill="none" stroke="#5e1c12" stroke-width="0.5" stroke-linecap="round"/>
<path d="M285.7 287.4 C288 282 290.5 277 292.3 272 C293.5 268 295 266 298.5 264.5" fill="none" stroke="#5e1c12" stroke-width="1.0" stroke-linecap="round"/>
<path d="M292.3 272 C291.5 265 289 258 285.2 252.4" fill="none" stroke="#5e1c12" stroke-width="0.9" stroke-linecap="round"/>
<path d="M290.6 263 C292 258 293 255 294.5 252" fill="none" stroke="#5e1c12" stroke-width="0.7" stroke-linecap="round"/>
<path d="M288 258 C285.5 257 284 256 283 254.5" fill="none" stroke="#5e1c12" stroke-width="0.5" stroke-linecap="round"/>
<path d="M289 279.5 C284 277 280 273.5 277.5 270" fill="none" stroke="#5e1c12" stroke-width="0.8" stroke-linecap="round"/>
<path d="M284 276.5 C281.5 277.5 279.5 279 278 281" fill="none" stroke="#5e1c12" stroke-width="0.5" stroke-linecap="round"/>
<path d="M282 274.8 C280.5 271 279.5 268 279.5 265" fill="none" stroke="#5e1c12" stroke-width="0.5" stroke-linecap="round"/>
<path d="M286.5 285.5 C282.5 284.5 278.5 283.5 274.5 282.5" fill="none" stroke="#5e1c12" stroke-width="0.6" stroke-linecap="round"/>
<path d="M292.3 272 C295 271.5 297 270.5 299 268.5" fill="none" stroke="#5e1c12" stroke-width="0.5" stroke-linecap="round"/>
<path d="M285.7 287.4 C282 293 278 298 274.6 302.1 C270 308 266 314 262 320" fill="none" stroke="#8a2b3a" stroke-width="0.8" stroke-linecap="round"/>
<path d="M274.6 302.1 C272.5 299 271.5 296 271.5 293" fill="none" stroke="#8a2b3a" stroke-width="0.5" stroke-linecap="round"/>
<path d="M268 311 C271 311.5 274 311 276 309.5" fill="none" stroke="#8a2b3a" stroke-width="0.5" stroke-linecap="round"/>
<path d="M264.5 316.5 C267 318 270 318.5 272 318" fill="none" stroke="#8a2b3a" stroke-width="0.5" stroke-linecap="round"/>
<path d="M279 296.5 C280.5 299 281 301 281 303" fill="none" stroke="#8a2b3a" stroke-width="0.5" stroke-linecap="round"/>
</g>
<ellipse cx="299.5" cy="247.5" rx="90.2" ry="88.5" fill="none" stroke="#2f3b7a" stroke-width="1.2"/>
<path d="M277.3 74.5 L235.4 181.3" fill="none" stroke="#2d3a73" stroke-width="2.3" stroke-dasharray="2.3 4.0" stroke-dashoffset="1"/>
<path d="M313.2 75.8 L358.9 180.6" fill="none" stroke="#2d3a73" stroke-width="2.3" stroke-dasharray="2.3 4.03"/>
<line x1="295.6" y1="205.2" x2="408.5" y2="205.2" stroke="#1d1d1f" stroke-width="1.25"/>
<circle cx="295.6" cy="205.2" r="2.4" fill="#1d1d1f"/>
<line x1="299.6" y1="236.6" x2="421.5" y2="236.6" stroke="#1d1d1f" stroke-width="1.25"/>
<circle cx="299.6" cy="236.6" r="2.4" fill="#1d1d1f"/>
<line x1="285.7" y1="287.4" x2="408.5" y2="287.4" stroke="#1d1d1f" stroke-width="1.25"/>
<circle cx="285.7" cy="287.4" r="2.4" fill="#1d1d1f"/>
</g>

<!-- ================= CURVED ARROW ================= -->
<g id="curve">
<path d="M193.2 267.8 C171 272.5 151.5 284 138 303 C127 320 124.5 343 128.3 366" fill="none" stroke="url(#gcurve)" stroke-width="3.7"/>
<path d="M131.6 380 L119.6 365.6 L136.8 361.6 Z" fill="#3a4470"/>
</g>

<!-- ================= VESSEL ================= -->
<g id="vessel">
<rect x="91.5" y="624.5" width="475.7" height="120.2" fill="#f2f5fb"/>
<path d="M276.3 628.0 C269.3 625.7 276.8 616.3 277.6 613.0 C278.4 609.7 280.6 605.3 282.6 603.0 C284.6 600.7 290.0 597.7 292.7 595.4 C295.4 593.1 299.9 588.0 302.8 585.4 C305.7 582.8 309.7 577.9 314.1 576.0 C318.5 574.1 330.0 572.7 335.5 571.5 C341.0 570.3 351.6 568.7 355.6 567.0 C359.6 565.3 362.3 560.4 365.6 558.5 C368.9 556.6 376.1 552.9 380.0 552.5 C383.9 552.1 392.0 553.5 394.6 555.2 C397.2 556.9 398.3 563.0 399.8 565.2 C401.3 567.4 404.8 570.3 406.0 572.0 C407.2 573.7 407.8 575.9 408.6 578.0 C409.4 580.1 411.9 584.9 412.2 587.9 C412.5 590.9 410.0 598.0 410.9 600.5 C411.8 603.0 417.3 605.2 419.0 607.0 C420.7 608.8 423.4 612.0 424.0 614.0 C424.6 616.0 424.8 620.1 423.5 622.0 C422.2 623.9 418.4 626.9 414.0 628.0 C409.6 629.1 402.0 629.7 390.8 630.0 C379.6 630.3 345.3 630.3 330.0 630.0 C314.7 629.7 283.3 630.3 276.3 628.0 Z" fill="#d6e6fa"/>
<circle cx="406.4" cy="562.7" r="5.6" fill="#dcebfa"/>
<ellipse cx="351" cy="563.5" rx="27" ry="6" fill="#ffffff" filter="url(#b3)"/>
<rect x="346" y="559.6" width="28.5" height="8" rx="4" fill="#ffffff" filter="url(#b1)"/>
<path d="M354.2 747.8 C355.6 745.9 359.6 743.9 364.0 742.2 C368.4 740.6 376.9 737.9 380.9 737.9 C384.9 737.9 386.3 739.9 387.9 742.2 C389.5 744.6 389.5 749.7 390.7 752.0 C391.9 754.3 395.8 753.6 394.9 756.2 C394.0 758.8 387.4 764.5 385.1 767.5 C382.8 770.5 383.9 772.6 380.9 774.5 C377.8 776.4 369.9 779.2 366.8 778.7 C363.8 778.2 363.1 774.8 362.6 771.7 C362.1 768.7 365.2 763.5 364.0 760.4 C362.8 757.3 357.2 755.5 355.6 753.4 C354.0 751.3 352.8 749.7 354.2 747.8 Z" fill="#d9e8f9" stroke="#c9def6" stroke-width="0.8" stroke-dasharray="2 1.2"/>
<circle cx="393.5" cy="770.8" r="5.4" fill="#e3eefb" stroke="#c9def6" stroke-width="0.7" stroke-dasharray="2 1.2"/>
<path d="M371.0 784.3 C372.9 782.1 377.8 779.7 380.9 779.5 C384.0 779.3 388.5 780.7 389.9 782.9 C391.3 785.1 390.8 789.8 389.3 792.8 C387.8 795.8 383.5 799.6 380.9 801.2 C378.3 802.8 375.7 804.0 373.8 802.6 C371.9 801.2 370.1 795.8 369.6 792.8 C369.1 789.8 369.1 786.5 371.0 784.3 Z" fill="#d9e8f9" stroke="#c9def6" stroke-width="0.8" stroke-dasharray="2 1.2"/>
<path d="M482.7 732.3 C484.0 731.5 485.1 737.4 486.3 739.3 C487.5 741.2 489.6 745.5 492.0 746.4 C494.4 747.3 502.5 745.8 504.6 746.4 C506.7 747.0 507.8 749.3 507.4 750.6 C507.0 751.9 504.8 755.5 501.8 756.2 C498.8 756.9 488.1 754.7 484.9 756.2 C481.7 757.7 478.5 765.4 477.9 767.5 C477.3 769.6 479.7 770.6 480.7 771.7 C481.7 772.8 485.5 773.8 485.5 775.9 C485.5 778.0 482.1 785.4 480.7 787.1 C479.3 788.8 476.0 789.2 475.1 788.5 C474.2 787.8 473.7 783.9 473.7 781.5 C473.7 779.1 475.1 772.4 475.1 770.3 C475.1 768.2 474.6 767.3 473.7 766.0 C472.8 764.7 469.3 762.3 468.6 760.4 C467.9 758.5 467.0 754.1 468.1 752.0 C469.2 749.9 474.6 747.6 476.5 745.0 C478.4 742.4 481.4 733.1 482.7 732.3 Z" fill="#d9e8f9" stroke="#c9def6" stroke-width="0.8" stroke-dasharray="2 1.2"/>
<path d="M110.9 615.0 C110.9 614.0 113.4 612.1 115.9 610.8 C118.4 609.5 126.1 606.8 130.0 605.1 C133.9 603.4 141.5 600.3 145.4 598.1 C149.3 595.9 155.9 590.5 159.5 588.3 C163.1 586.1 168.9 582.9 172.1 581.8 C175.3 580.7 180.6 579.7 183.4 579.8 C186.2 579.9 190.6 581.3 193.2 582.6 C195.8 583.9 200.2 588.2 203.0 589.7 C205.8 591.2 211.3 592.4 214.3 593.9 C217.3 595.4 222.1 599.1 225.5 600.9 C228.9 602.7 235.9 605.7 239.6 607.1 C243.3 608.5 251.3 610.5 253.6 611.6 C255.9 612.7 257.0 614.2 257.0 615.0 C257.0 615.8 257.8 617.4 253.6 617.8 C249.4 618.2 234.9 618.0 225.5 618.3 C216.1 618.6 194.6 619.9 183.4 620.0 C172.2 620.1 150.2 619.4 141.2 619.2 C132.2 619.0 119.9 618.9 115.9 618.3 C111.9 617.7 110.9 616.0 110.9 615.0 Z" fill="#d9ae7c" stroke="#a06d28" stroke-width="1.4" stroke-linejoin="round"/>
<path d="M195.9 602.6 C195.8 604.3 195.3 606.4 193.5 607.5 C191.6 608.6 187.7 609.1 184.8 609.1 C181.9 609.1 178.1 608.6 176.0 607.6 C173.9 606.5 172.0 604.1 172.2 602.6 C172.4 601.1 175.3 599.4 177.4 598.4 C179.5 597.5 182.0 597.0 184.8 596.8 C187.6 596.6 192.4 596.3 194.3 597.3 C196.1 598.3 196.1 600.9 195.9 602.6 Z" fill="#cf9459" stroke="#c08648" stroke-width="0.8"/>
<path d="M92.9 624.8 C93.1 623.7 94.3 622.5 96.2 622.0 C98.1 621.5 103.4 621.2 107.5 621.4 C111.6 621.6 120.8 623.1 127.2 623.4 C133.6 623.7 148.9 623.5 155.3 623.4 C161.7 623.3 171.5 622.6 174.9 622.8 C178.3 623.0 180.0 623.8 180.6 624.8 C181.2 625.8 180.7 628.9 179.2 630.4 C177.7 631.9 172.5 634.2 169.3 636.0 C166.1 637.8 158.9 641.7 155.3 643.6 C151.7 645.5 145.6 649.4 142.6 650.1 C139.6 650.8 136.0 649.8 132.8 648.7 C129.6 647.6 122.4 643.4 118.7 641.7 C115.0 640.0 107.9 637.5 104.7 636.0 C101.5 634.5 96.4 631.9 94.8 630.4 C93.2 628.9 92.7 625.9 92.9 624.8 Z" fill="#cd8c8d" stroke="#9a3d48" stroke-width="1.3" stroke-linejoin="round"/>
<path d="M148.5 637.5 C148.6 638.8 147.4 640.6 145.8 641.6 C144.1 642.5 140.9 643.3 138.4 643.3 C135.9 643.4 132.3 642.8 130.6 641.8 C128.9 640.8 128.0 638.9 128.0 637.5 C128.0 636.1 128.9 634.0 130.6 633.2 C132.4 632.5 136.0 632.9 138.4 632.9 C140.8 633.0 143.5 633.0 145.2 633.8 C146.9 634.5 148.4 636.2 148.5 637.5 Z" fill="#bd6a70" stroke="#a8525c" stroke-width="0.8"/>
<path d="M183.2 628.0 C183.0 626.5 183.8 624.8 185.3 624.0 C186.8 623.2 189.6 622.9 192.0 623.2 C194.4 623.5 197.6 625.8 200.0 625.8 C202.4 625.8 204.2 623.5 206.6 623.2 C209.0 622.9 211.9 624.1 214.6 624.0 C217.3 623.9 219.9 623.1 222.6 622.6 C225.3 622.1 227.9 621.4 230.6 621.3 C233.3 621.2 235.9 622.1 238.6 622.1 C241.3 622.1 243.9 621.2 246.6 621.3 C249.2 621.4 252.3 622.0 254.5 622.6 C256.7 623.2 259.0 623.7 259.9 624.8 C260.8 625.9 260.8 627.7 259.9 629.3 C259.0 630.9 256.3 632.8 254.5 634.6 C252.7 636.4 251.0 638.2 249.2 640.0 C247.4 641.8 245.9 643.8 243.9 645.3 C241.9 646.8 239.6 648.3 237.2 648.7 C234.8 649.1 231.7 648.7 229.3 647.9 C226.9 647.1 224.8 645.3 222.6 644.0 C220.4 642.7 218.3 640.9 215.9 640.0 C213.5 639.1 210.4 639.3 208.0 638.6 C205.6 637.9 203.5 636.9 201.3 636.0 C199.1 635.1 197.0 633.8 194.6 633.3 C192.2 632.8 188.6 633.7 186.7 632.8 C184.8 631.9 183.4 629.5 183.2 628.0 Z" fill="#b66b6c" stroke="#913540" stroke-width="1.3" stroke-linejoin="round"/>
<path d="M241.9 636.5 C241.8 637.6 240.7 638.8 239.5 639.7 C238.3 640.6 236.2 641.9 234.6 641.9 C233.0 641.9 231.1 640.6 229.8 639.7 C228.5 638.8 226.8 637.6 226.8 636.5 C226.7 635.4 228.0 633.8 229.3 633.0 C230.6 632.3 232.8 632.1 234.6 632.1 C236.4 632.0 238.9 632.1 240.1 632.9 C241.3 633.6 242.0 635.4 241.9 636.5 Z" fill="#a85458" stroke="#963e44" stroke-width="0.8" transform="rotate(-12 234.6 636.5)"/>
<path d="M227.9 631.2 C228.0 631.7 228.1 632.5 227.4 632.8 C226.8 633.1 225.0 632.9 223.9 632.9 C222.8 632.9 221.3 632.9 220.6 632.7 C220.0 632.4 220.0 631.7 220.1 631.2 C220.2 630.7 220.4 630.3 221.1 629.9 C221.7 629.6 223.0 629.0 223.9 629.0 C224.8 629.0 226.0 629.6 226.7 630.0 C227.4 630.3 227.8 630.7 227.9 631.2 Z" fill="#a85458" stroke="#963e44" stroke-width="0.8" transform="rotate(-15 223.9 631.2)"/>
<ellipse cx="212.5" cy="646.1" rx="5" ry="3.5" fill="#b66b6c" stroke="#913540" stroke-width="1.2" transform="rotate(15 212.5 646.1)"/>
<ellipse cx="266.5" cy="624.8" rx="4" ry="5.5" fill="#b66b6c" stroke="#913540" stroke-width="1.2" transform="rotate(10 266.5 624.8)"/>
<path d="M268.4 632.0 C268.8 630.9 270.2 629.0 271.9 628.5 C273.6 628.0 276.3 628.8 278.5 629.3 C280.7 629.8 283.0 631.4 285.2 631.2 C287.4 631.0 289.4 628.8 291.8 628.0 C294.2 627.2 297.1 627.1 299.8 626.6 C302.5 626.1 305.1 626.0 307.8 625.3 C310.5 624.6 313.1 623.1 315.8 622.6 C318.5 622.1 321.1 622.3 323.8 622.1 C326.5 621.9 329.2 621.3 331.8 621.3 C334.4 621.3 337.6 621.6 339.7 622.1 C341.8 622.6 344.1 622.8 344.5 624.0 C344.9 625.2 343.6 627.5 342.4 629.3 C341.2 631.1 338.9 632.8 337.1 634.6 C335.3 636.4 333.8 638.2 331.8 640.0 C329.8 641.8 327.6 643.8 325.1 645.3 C322.7 646.8 319.5 648.4 317.1 648.7 C314.7 649.0 312.7 648.1 310.5 647.1 C308.3 646.1 306.0 643.8 303.8 642.6 C301.6 641.4 299.5 640.4 297.1 640.0 C294.7 639.6 291.9 640.3 289.2 640.0 C286.5 639.7 283.9 638.6 281.2 638.1 C278.5 637.6 275.2 637.8 273.2 637.3 C271.2 636.8 270.0 636.3 269.2 635.4 C268.4 634.5 267.9 633.1 268.4 632.0 Z" fill="#b66b6c" stroke="#913540" stroke-width="1.3" stroke-linejoin="round"/>
<path d="M326.1 637.3 C326.2 638.4 325.0 640.0 323.7 640.8 C322.4 641.6 320.3 641.8 318.4 641.9 C316.5 642.0 313.4 642.1 312.3 641.3 C311.2 640.6 311.7 638.6 311.8 637.3 C311.9 636.0 311.8 634.6 312.9 633.7 C314.0 632.7 316.7 631.4 318.4 631.5 C320.1 631.6 321.9 633.2 323.2 634.1 C324.5 635.1 326.0 636.2 326.1 637.3 Z" fill="#a85458" stroke="#963e44" stroke-width="0.8" transform="rotate(-12 318.4 637.3)"/>
<path d="M312.6 632.8 C312.6 633.2 311.9 633.8 311.3 634.1 C310.6 634.5 309.5 634.8 308.6 634.8 C307.7 634.8 306.8 634.4 306.1 634.0 C305.4 633.7 304.4 633.3 304.3 632.8 C304.3 632.3 304.9 631.6 305.6 631.3 C306.3 631.0 307.7 630.7 308.6 630.8 C309.5 630.8 310.4 631.2 311.1 631.6 C311.7 631.9 312.5 632.4 312.6 632.8 Z" fill="#a85458" stroke="#963e44" stroke-width="0.8" transform="rotate(-15 308.6 632.8)"/>
<ellipse cx="297.9" cy="648.7" rx="5" ry="3.8" fill="#b66b6c" stroke="#913540" stroke-width="1.2" transform="rotate(10 297.9 648.7)"/>
<ellipse cx="350.4" cy="622.6" rx="4.2" ry="5.5" fill="#b66b6c" stroke="#913540" stroke-width="1.2" transform="rotate(10 350.4 622.6)"/>
<path d="M391.2 626.2 C391.4 624.8 393.7 623.0 396.2 622.8 C398.7 622.6 402.8 624.5 406.1 624.8 C409.4 625.1 412.4 624.6 415.9 624.8 C419.4 625.0 423.0 626.4 427.2 626.2 C431.4 626.0 436.5 623.6 441.2 623.4 C445.9 623.2 451.1 624.1 455.3 624.8 C459.5 625.5 464.4 626.2 466.5 627.6 C468.6 629.0 469.1 631.2 467.9 633.2 C466.7 635.2 462.1 637.6 459.5 639.7 C456.9 641.8 455.6 643.9 452.5 645.9 C449.4 647.9 444.7 650.8 441.2 651.5 C437.7 652.2 434.2 651.5 431.4 650.1 C428.6 648.7 427.1 645.2 424.3 643.1 C421.5 641.0 417.8 639.1 414.5 637.5 C411.2 635.9 408.0 634.2 404.7 633.2 C401.4 632.2 397.1 632.5 394.8 631.3 C392.6 630.1 391.0 627.6 391.2 626.2 Z" fill="#b66b6c" stroke="#913540" stroke-width="1.3" stroke-linejoin="round"/>
<path d="M447.2 638.9 C447.2 640.2 446.4 641.7 445.2 642.7 C444.0 643.7 441.6 645.0 439.8 644.9 C438.0 644.9 435.8 643.6 434.5 642.6 C433.3 641.6 432.3 640.2 432.3 638.9 C432.2 637.6 433.1 635.8 434.3 635.0 C435.6 634.2 438.0 634.1 439.8 634.1 C441.6 634.1 443.9 634.3 445.1 635.1 C446.4 635.9 447.2 637.6 447.2 638.9 Z" fill="#a85458" stroke="#963e44" stroke-width="0.8"/>
<path d="M435.2 633.2 C435.2 633.7 434.9 634.3 434.3 634.6 C433.6 635.0 432.3 635.3 431.4 635.2 C430.5 635.2 429.5 634.8 429.0 634.4 C428.4 634.1 428.1 633.6 428.1 633.2 C428.1 632.8 428.2 632.2 428.8 631.9 C429.3 631.6 430.5 631.4 431.4 631.4 C432.3 631.4 433.8 631.4 434.4 631.7 C435.0 632.0 435.3 632.7 435.2 633.2 Z" fill="#a85458" stroke="#963e44" stroke-width="0.8" transform="rotate(-15 431.4 633.2)"/>
<ellipse cx="418.7" cy="647.3" rx="4.6" ry="3.5" fill="#b66b6c" stroke="#913540" stroke-width="1.2" transform="rotate(20 418.7 647.3)"/>
<ellipse cx="474.4" cy="630.4" rx="3.6" ry="5" fill="#b66b6c" stroke="#913540" stroke-width="1.2" transform="rotate(10 474.4 630.4)"/>
<path d="M480.6 629.0 C480.6 627.9 483.2 626.8 486.2 626.2 C489.2 625.6 497.8 625.2 503.0 624.8 C508.2 624.4 519.5 623.9 525.5 623.4 C531.5 622.9 542.7 621.8 548.0 621.4 C553.3 621.0 562.2 620.3 564.9 620.6 C567.6 620.9 568.2 622.1 568.2 623.4 C568.2 624.7 566.8 628.5 564.9 630.4 C563.0 632.3 556.6 635.6 553.6 637.5 C550.6 639.4 545.4 642.8 542.4 644.5 C539.4 646.2 534.2 649.4 531.2 650.1 C528.2 650.8 522.9 650.7 519.9 650.1 C516.9 649.5 511.7 647.2 508.7 645.9 C505.7 644.6 500.4 641.8 497.4 640.3 C494.4 638.8 488.4 636.1 486.2 634.6 C484.0 633.1 480.6 630.1 480.6 629.0 Z" fill="#cd8c8d" stroke="#9a3d48" stroke-width="1.3" stroke-linejoin="round"/>
<path d="M535.7 638.9 C535.9 640.3 535.5 642.2 534.0 643.3 C532.6 644.3 529.3 645.0 526.9 645.1 C524.5 645.1 520.9 644.5 519.4 643.5 C518.0 642.4 518.1 640.3 518.3 638.9 C518.5 637.5 519.3 636.0 520.7 635.1 C522.1 634.3 524.8 633.7 526.9 633.7 C529.0 633.7 531.6 634.3 533.1 635.1 C534.6 636.0 535.6 637.5 535.7 638.9 Z" fill="#bd6a70" stroke="#a8525c" stroke-width="0.8"/>
<path d="M414.5 613.6 C414.7 612.5 415.0 610.6 417.3 609.3 C419.6 608.0 426.4 606.8 430.0 605.1 C433.6 603.4 437.8 599.4 441.2 598.1 C444.6 596.8 449.8 598.4 452.5 596.7 C455.2 595.0 457.0 589.3 459.5 586.9 C462.0 584.5 466.3 581.5 469.3 580.7 C472.3 579.9 476.5 580.7 479.2 581.8 C481.9 582.9 485.3 586.4 487.6 588.3 C489.9 590.2 492.3 593.4 494.6 594.7 C496.9 596.0 500.9 595.6 503.0 596.7 C505.1 597.8 506.2 600.6 508.7 602.3 C511.2 604.0 517.0 606.4 519.9 607.9 C522.8 609.4 525.8 612.0 528.3 612.2 C530.8 612.4 534.7 609.3 536.8 609.3 C538.9 609.3 542.0 611.1 542.4 612.2 C542.8 613.3 542.1 615.8 539.6 616.4 C537.1 617.0 529.7 616.2 525.5 616.4 C521.3 616.6 517.8 617.4 511.5 617.8 C505.2 618.2 491.8 619.2 483.4 619.2 C475.0 619.2 463.7 618.0 455.3 617.8 C446.9 617.6 433.1 618.0 427.2 617.8 C421.3 617.6 417.8 617.0 415.9 616.4 C414.0 615.8 414.3 614.7 414.5 613.6 Z" fill="#c4975e" stroke="#96641f" stroke-width="1.4" stroke-linejoin="round"/>
<path d="M475.2 593.9 C475.2 594.7 475.3 595.9 474.7 596.5 C474.1 597.0 472.7 597.4 471.6 597.5 C470.5 597.5 468.9 597.2 468.3 596.6 C467.6 596.0 467.7 594.7 467.8 593.9 C467.9 593.1 468.3 592.3 468.9 591.7 C469.5 591.1 470.6 590.3 471.6 590.3 C472.6 590.2 474.1 590.8 474.7 591.4 C475.3 592.0 475.2 593.1 475.2 593.9 Z" fill="#bd8149" stroke="#b0763f" stroke-width="0.8"/>
<path d="M489.9 603.2 C489.6 604.5 486.1 605.7 484.1 606.7 C482.1 607.7 479.9 609.4 477.7 609.4 C475.5 609.5 473.0 607.9 471.0 606.9 C468.9 605.8 465.4 604.4 465.4 603.2 C465.5 602.0 469.2 600.8 471.3 599.7 C473.3 598.6 475.3 596.8 477.7 596.7 C480.1 596.6 483.6 597.8 485.7 598.9 C487.7 599.9 490.2 601.9 489.9 603.2 Z" fill="#bd8149" stroke="#b0763f" stroke-width="0.8"/>
<ellipse cx="448.5" cy="592.5" rx="5.4" ry="4.4" fill="#c4975e" stroke="#96641f" stroke-width="1.2" transform="rotate(-20 448.5 592.5)"/>
<ellipse cx="404.7" cy="613.6" rx="5.4" ry="4" fill="#c4975e" stroke="#96641f" stroke-width="1.2"/>
<path d="M90.6 739.3 C91.1 738.2 92.9 735.2 94.8 733.7 C96.7 732.2 101.9 729.8 104.7 728.1 C107.5 726.4 112.9 723.0 115.9 721.1 C118.9 719.2 124.2 715.1 127.2 714.1 C130.2 713.1 135.4 713.1 138.4 713.5 C141.4 713.9 147.0 715.7 149.6 716.9 C152.2 718.1 155.7 721.6 158.1 722.5 C160.5 723.4 165.7 723.0 167.9 723.9 C170.1 724.8 173.5 728.0 174.9 729.5 C176.3 731.0 178.8 734.0 178.6 735.1 C178.4 736.2 176.6 737.3 173.5 737.9 C170.4 738.5 160.4 738.7 155.3 739.3 C150.2 739.9 141.2 741.6 135.6 742.2 C130.0 742.8 118.4 743.3 113.1 743.6 C107.8 743.9 99.1 744.6 96.2 744.4 C93.3 744.2 91.9 742.9 91.2 742.2 C90.5 741.5 90.1 740.4 90.6 739.3 Z" fill="#cd8c8d" stroke="#9a3d48" stroke-width="1.3" stroke-linejoin="round"/>
<path d="M141.4 725.3 C141.4 726.6 141.4 728.4 140.0 729.3 C138.5 730.2 135.1 730.9 132.8 730.9 C130.5 730.8 127.5 730.0 126.1 729.0 C124.6 728.1 124.2 726.6 124.1 725.3 C124.0 724.0 124.0 722.2 125.4 721.2 C126.9 720.2 130.4 719.4 132.8 719.5 C135.2 719.5 138.2 720.5 139.6 721.5 C141.0 722.5 141.3 724.0 141.4 725.3 Z" fill="#bd6a70" stroke="#a8525c" stroke-width="0.8"/>
<ellipse cx="185.3" cy="733.7" rx="4.4" ry="5.4" fill="#b66b6c" stroke="#913540" stroke-width="1.2" transform="rotate(15 185.3 733.7)"/>
<path d="M191.8 732.3 C191.8 730.4 194.6 728.8 197.4 726.7 C200.2 724.6 204.9 721.8 208.7 719.7 C212.4 717.6 216.2 715.1 219.9 714.1 C223.6 713.1 228.1 712.8 231.1 713.5 C234.1 714.2 235.6 716.3 238.2 718.3 C240.8 720.3 243.6 723.9 246.6 725.3 C249.6 726.7 253.3 725.5 256.4 726.7 C259.4 727.9 262.1 731.1 264.9 732.3 C267.7 733.4 271.4 732.6 273.3 733.6 C275.2 734.6 276.9 737.2 276.0 738.5 C275.1 739.8 271.0 741.7 267.7 741.6 C264.4 741.5 260.6 738.3 256.4 737.9 C252.2 737.5 247.6 739.3 242.4 739.3 C237.2 739.3 230.7 737.8 225.5 737.9 C220.3 738.0 216.2 739.9 211.5 739.9 C206.8 739.9 200.7 739.2 197.4 737.9 C194.1 736.6 191.8 734.2 191.8 732.3 Z" fill="#b66b6c" stroke="#913540" stroke-width="1.3" stroke-linejoin="round"/>
<path d="M230.2 724.7 C230.1 725.8 227.7 727.1 226.2 727.7 C224.7 728.4 223.2 728.7 221.3 728.8 C219.4 729.0 216.1 729.3 215.0 728.7 C213.8 728.0 214.0 725.9 214.3 724.7 C214.5 723.5 215.3 722.5 216.5 721.7 C217.6 720.8 219.6 719.7 221.3 719.6 C223.0 719.6 225.0 720.6 226.5 721.4 C228.0 722.3 230.2 723.6 230.2 724.7 Z" fill="#a85458" stroke="#963e44" stroke-width="0.8"/>
<path d="M236.6 730.9 C236.7 731.4 235.9 732.1 235.0 732.5 C234.1 732.8 232.2 733.1 231.1 733.1 C230.0 733.0 228.9 732.5 228.1 732.1 C227.3 731.7 226.2 731.3 226.1 730.9 C226.1 730.5 226.9 729.9 227.8 729.6 C228.6 729.2 230.0 728.9 231.1 728.9 C232.2 729.0 233.2 729.4 234.1 729.7 C235.1 730.0 236.4 730.4 236.6 730.9 Z" fill="#a85458" stroke="#963e44" stroke-width="0.8" transform="rotate(-15 231.1 730.9)"/>
<ellipse cx="244.6" cy="716.3" rx="5" ry="4" fill="#b66b6c" stroke="#913540" stroke-width="1.2" transform="rotate(15 244.6 716.3)"/>
<ellipse cx="289.5" cy="740.8" rx="4.4" ry="5.8" fill="#b66b6c" stroke="#913540" stroke-width="1.2" transform="rotate(15 289.5 740.8)"/>
<path d="M295.1 737.9 C295.1 736.2 296.7 734.6 299.3 732.3 C301.9 730.0 307.1 726.5 310.6 723.9 C314.1 721.3 316.6 718.8 320.4 716.9 C324.1 715.0 329.1 713.1 333.1 712.6 C337.1 712.1 341.0 712.9 344.3 714.1 C347.6 715.3 349.4 718.8 352.7 719.7 C356.0 720.6 360.9 718.8 364.0 719.7 C367.1 720.6 368.2 724.6 371.0 725.3 C373.8 726.0 378.4 723.4 380.9 723.9 C383.4 724.4 385.9 726.5 385.9 728.1 C385.9 729.7 383.6 732.8 380.9 733.7 C378.2 734.6 373.8 733.2 369.6 733.7 C365.4 734.2 360.3 735.8 355.6 736.5 C350.9 737.2 346.2 737.2 341.5 737.9 C336.8 738.6 332.2 740.1 327.5 740.8 C322.8 741.5 318.1 742.0 313.4 742.2 C308.7 742.4 302.4 742.9 299.3 742.2 C296.2 741.5 295.1 739.5 295.1 737.9 Z" fill="#b66b6c" stroke="#913540" stroke-width="1.3" stroke-linejoin="round"/>
<path d="M334.6 725.3 C334.6 726.7 333.8 728.7 332.5 729.5 C331.1 730.3 328.6 730.1 326.6 730.1 C324.6 730.1 321.6 730.5 320.5 729.7 C319.3 728.9 319.7 726.7 319.8 725.3 C319.9 723.9 319.9 722.1 321.0 721.3 C322.1 720.6 324.7 720.7 326.6 720.6 C328.5 720.6 331.0 720.4 332.3 721.2 C333.7 722.0 334.6 723.9 334.6 725.3 Z" fill="#a85458" stroke="#963e44" stroke-width="0.8"/>
<path d="M343.4 729.5 C343.4 730.1 343.4 731.0 342.6 731.4 C341.8 731.9 339.9 732.2 338.7 732.2 C337.5 732.1 336.5 731.5 335.6 731.1 C334.7 730.6 333.4 730.1 333.3 729.5 C333.2 728.9 334.2 728.1 335.1 727.7 C336.0 727.4 337.5 727.4 338.7 727.4 C339.9 727.4 341.8 727.2 342.6 727.5 C343.4 727.9 343.4 728.9 343.4 729.5 Z" fill="#a85458" stroke="#963e44" stroke-width="0.8" transform="rotate(-20 338.7 729.5)"/>
<ellipse cx="350.8" cy="712.6" rx="5.5" ry="4" fill="#b66b6c" stroke="#913540" stroke-width="1.2" transform="rotate(10 350.8 712.6)"/>
<ellipse cx="397.5" cy="736.2" rx="4" ry="6" fill="#b66b6c" stroke="#913540" stroke-width="1.2" transform="rotate(12 397.5 736.2)"/>
<path d="M403.4 736.5 C402.9 734.8 404.3 731.8 406.2 729.5 C408.1 727.2 411.9 724.8 414.7 722.5 C417.5 720.2 420.1 717.3 423.1 715.5 C426.1 713.7 429.8 712.0 432.9 711.8 C435.9 711.6 439.0 712.5 441.4 714.1 C443.8 715.7 444.7 719.7 447.0 721.1 C449.3 722.5 452.8 721.3 455.4 722.5 C458.0 723.7 459.9 727.2 462.5 728.1 C465.1 729.0 468.6 727.2 470.9 728.1 C473.2 729.0 476.5 731.6 476.5 733.2 C476.5 734.8 473.7 737.4 470.9 737.9 C468.1 738.4 462.9 736.3 459.6 736.5 C456.3 736.7 454.9 739.1 451.2 739.3 C447.5 739.5 441.9 737.6 437.2 737.9 C432.5 738.1 427.8 740.5 423.1 740.8 C418.4 741.1 412.4 740.6 409.1 739.9 C405.8 739.2 403.9 738.2 403.4 736.5 Z" fill="#b66b6c" stroke="#913540" stroke-width="1.3" stroke-linejoin="round"/>
<path d="M436.0 724.7 C436.0 725.7 434.3 727.1 433.1 727.8 C431.8 728.5 430.3 729.0 428.7 729.1 C427.1 729.2 424.7 729.0 423.7 728.2 C422.8 727.5 422.9 725.9 422.8 724.7 C422.8 723.5 422.5 721.9 423.5 721.0 C424.5 720.1 427.1 719.3 428.7 719.5 C430.3 719.6 431.6 720.9 432.8 721.8 C434.0 722.6 436.0 723.7 436.0 724.7 Z" fill="#a85458" stroke="#963e44" stroke-width="0.8"/>
<path d="M441.8 729.5 C441.8 730.1 441.2 730.9 440.5 731.3 C439.7 731.8 438.2 732.3 437.2 732.3 C436.2 732.2 435.0 731.5 434.4 731.1 C433.8 730.6 433.5 730.1 433.4 729.5 C433.3 728.9 433.2 728.0 433.8 727.6 C434.4 727.2 436.1 727.2 437.2 727.2 C438.3 727.2 439.4 727.5 440.2 727.9 C440.9 728.2 441.7 728.9 441.8 729.5 Z" fill="#a85458" stroke="#963e44" stroke-width="0.8" transform="rotate(-20 437.2 729.5)"/>
<ellipse cx="448.4" cy="714.1" rx="5" ry="4.4" fill="#b66b6c" stroke="#913540" stroke-width="1.2" transform="rotate(30 448.4 714.1)"/>
<path d="M487.7 736.5 C487.7 735.3 489.7 732.4 492.0 730.9 C494.3 729.4 501.4 727.0 504.6 725.3 C507.8 723.6 512.9 719.8 515.9 718.3 C518.9 716.8 524.1 714.5 527.1 714.1 C530.1 713.7 535.3 714.6 538.3 715.5 C541.3 716.4 546.8 719.7 549.6 721.1 C552.4 722.5 557.0 725.2 559.4 725.9 C561.8 726.6 565.9 725.8 567.8 726.7 C569.7 727.6 572.6 730.8 573.5 732.3 C574.4 733.8 575.5 736.6 574.9 737.9 C574.3 739.2 572.6 741.6 569.2 742.2 C565.8 742.8 554.8 742.1 549.6 742.2 C544.4 742.3 535.5 742.7 529.9 742.7 C524.3 742.7 512.5 742.6 507.4 742.2 C502.3 741.8 494.6 740.7 492.0 739.9 C489.4 739.1 487.7 737.7 487.7 736.5 Z" fill="#cd8c8d" stroke="#9a3d48" stroke-width="1.3" stroke-linejoin="round"/>
<path d="M538.3 725.9 C538.3 727.1 537.3 728.4 535.9 729.4 C534.5 730.4 531.9 731.6 529.9 731.6 C527.9 731.7 525.2 730.4 523.8 729.5 C522.4 728.5 521.5 727.1 521.4 725.9 C521.3 724.7 521.8 722.9 523.2 722.0 C524.6 721.1 527.8 720.4 529.9 720.5 C532.0 720.5 534.7 721.4 536.1 722.3 C537.5 723.2 538.3 724.7 538.3 725.9 Z" fill="#bd6a70" stroke="#a8525c" stroke-width="0.8"/>
<path d="M108.9 753.4 C109.5 752.7 108.8 750.9 113.1 750.6 C117.4 750.3 133.7 751.4 141.2 751.4 C148.7 751.4 164.9 750.3 169.3 750.6 C173.7 750.9 174.0 752.5 174.4 753.4 C174.8 754.3 173.5 756.3 172.1 757.6 C170.7 758.9 165.8 761.3 163.7 763.2 C161.6 765.1 158.6 769.3 156.7 771.7 C154.8 774.1 151.7 779.3 149.6 781.5 C147.5 783.7 143.3 788.1 141.2 788.5 C139.1 788.9 135.9 786.0 134.2 784.3 C132.5 782.6 130.3 778.1 128.6 775.9 C126.9 773.7 123.6 769.6 121.5 767.5 C119.4 765.4 114.8 761.9 113.1 760.4 C111.4 758.9 109.5 757.1 108.9 756.2 C108.3 755.3 108.3 754.1 108.9 753.4 Z" fill="#d9ae7c" stroke="#a06d28" stroke-width="1.4" stroke-linejoin="round"/>
<path d="M146.0 766.0 C145.9 767.7 145.1 769.3 144.2 770.6 C143.3 771.8 141.8 773.5 140.6 773.5 C139.4 773.5 138.0 771.7 137.1 770.5 C136.2 769.2 135.3 767.5 135.2 766.0 C135.2 764.5 136.1 762.5 137.0 761.4 C137.9 760.3 139.3 759.5 140.6 759.4 C141.9 759.2 144.0 759.4 144.9 760.5 C145.8 761.6 146.1 764.3 146.0 766.0 Z" fill="#d29a5a" stroke="#c48a4a" stroke-width="0.8"/>
<path d="M182.4 755.6 C182.2 754.7 183.4 752.9 184.4 752.3 C185.4 751.7 188.3 751.3 190.0 751.4 C191.7 751.5 195.0 753.2 197.0 753.3 C199.0 753.4 201.2 752.6 205.0 752.4 C208.8 752.2 219.0 752.1 225.5 752.0 C232.0 751.9 246.3 751.6 253.6 751.4 C260.9 751.2 273.4 750.8 280.0 750.8 C286.6 750.8 298.7 751.1 303.0 751.6 C307.3 752.1 311.6 753.8 312.0 754.8 C312.4 755.8 308.1 758.4 306.0 759.4 C303.9 760.4 298.4 761.5 296.0 762.4 C293.6 763.3 290.8 765.2 288.1 766.0 C285.4 766.8 278.7 767.5 276.0 768.6 C273.3 769.7 269.5 772.2 268.0 774.0 C266.5 775.8 266.4 779.9 264.9 782.0 C263.4 784.1 259.0 788.9 256.4 789.4 C253.8 789.9 248.2 787.3 245.2 785.7 C242.2 784.1 237.0 779.2 234.0 777.3 C231.0 775.4 226.1 773.6 222.7 771.7 C219.3 769.8 211.7 765.1 208.7 763.4 C205.7 761.7 202.1 759.7 200.0 759.2 C197.9 758.7 194.9 759.7 193.0 759.6 C191.1 759.5 187.4 759.3 186.0 758.8 C184.6 758.3 182.6 756.5 182.4 755.6 Z" fill="#c4975e" stroke="#96641f" stroke-width="1.4" stroke-linejoin="round"/>
<path d="M259.8 765.2 C259.6 766.7 257.7 768.5 255.7 769.4 C253.7 770.3 250.7 770.5 248.0 770.6 C245.3 770.7 241.1 770.8 239.4 769.9 C237.6 769.0 237.2 766.7 237.4 765.2 C237.6 763.7 238.6 762.1 240.4 761.1 C242.2 760.1 245.3 759.2 248.0 759.1 C250.7 759.0 254.6 759.5 256.6 760.5 C258.6 761.6 259.9 763.7 259.8 765.2 Z" fill="#bd8149" stroke="#b0763f" stroke-width="0.8"/>
<ellipse cx="253.6" cy="774.5" rx="5" ry="3.4" fill="#bd8149" stroke="#b0763f" stroke-width="0.8" transform="rotate(-15 253.6 774.5)"/>
<ellipse cx="319.9" cy="754.8" rx="5.4" ry="4" fill="#c4975e" stroke="#96641f" stroke-width="1.2"/>
<ellipse cx="276.3" cy="775.6" rx="5" ry="4.4" fill="#c4975e" stroke="#96641f" stroke-width="1.2" transform="rotate(-25 276.3 775.6)"/>
<g transform="translate(125.2 677.6) rotate(-28) scale(1 1)"><ellipse cx="0" cy="0" rx="18.6" ry="14.6" fill="#a8303c" stroke="#932534" stroke-width="1"/><ellipse cx="0" cy="0" rx="11.2" ry="8.8" fill="#ad3540"/><path d="M-10.9 1.8 C-11.7 -5.3 -3.3 -9.5 6.7 -7.0 C1.7 -4.4 -3.9 -0.9 -3.3 6.6 C-6.7 6.6 -10.0 4.8 -10.9 1.8 Z" fill="#7f1d2b"/><path d="M10.0 -3.1 C12.3 1.8 8.9 7.0 1.7 8.8" fill="none" stroke="#c8626c" stroke-width="0.9" stroke-linecap="round"/></g>
<g transform="translate(226.5 676) rotate(-12) scale(-1 1)"><ellipse cx="0" cy="0" rx="16.6" ry="19" fill="#a8303c" stroke="#932534" stroke-width="1"/><ellipse cx="0" cy="0" rx="10.0" ry="11.4" fill="#ad3540"/><path d="M-9.8 2.3 C-10.5 -6.8 -3.0 -12.3 6.0 -9.1 C1.5 -5.7 -3.5 -1.1 -3.0 8.6 C-6.0 8.6 -9.0 6.3 -9.8 2.3 Z" fill="#7f1d2b"/><path d="M9.0 -4.0 C11.0 2.3 8.0 9.1 1.5 11.4" fill="none" stroke="#c8626c" stroke-width="0.9" stroke-linecap="round"/></g>
<g transform="translate(283 677.8) rotate(46) scale(1 1)"><ellipse cx="0" cy="0" rx="21.5" ry="10.5" fill="#a8303c" stroke="#932534" stroke-width="1"/><ellipse cx="0" cy="0" rx="12.9" ry="6.3" fill="#ad3540"/><path d="M-12.6 1.3 C-13.5 -3.8 -3.9 -6.8 7.7 -5.0 C1.9 -3.1 -4.5 -0.6 -3.9 4.7 C-7.7 4.7 -11.6 3.5 -12.6 1.3 Z" fill="#7f1d2b"/><path d="M11.6 -2.2 C14.2 1.3 10.3 5.0 1.9 6.3" fill="none" stroke="#c8626c" stroke-width="0.9" stroke-linecap="round"/></g>
<g transform="translate(352.5 685.6) rotate(-18) scale(1 1)"><ellipse cx="0" cy="0" rx="16.6" ry="19.2" fill="#a8303c" stroke="#932534" stroke-width="1"/><ellipse cx="0" cy="0" rx="10.0" ry="11.5" fill="#ad3540"/><path d="M-9.8 2.3 C-10.5 -6.9 -3.0 -12.4 6.0 -9.2 C1.5 -5.8 -3.5 -1.2 -3.0 8.6 C-6.0 8.6 -9.0 6.3 -9.8 2.3 Z" fill="#7f1d2b"/><path d="M9.0 -4.0 C11.0 2.3 8.0 9.2 1.5 11.5" fill="none" stroke="#c8626c" stroke-width="0.9" stroke-linecap="round"/></g>
<g transform="translate(442.7 685.3) rotate(10) scale(1 1)"><ellipse cx="0" cy="0" rx="17.2" ry="18.6" fill="#a8303c" stroke="#932534" stroke-width="1"/><ellipse cx="0" cy="0" rx="10.3" ry="11.2" fill="#ad3540"/><path d="M-10.1 2.2 C-10.8 -6.7 -3.1 -12.1 6.2 -8.9 C1.5 -5.6 -3.6 -1.1 -3.1 8.4 C-6.2 8.4 -9.3 6.1 -10.1 2.2 Z" fill="#7f1d2b"/><path d="M9.3 -3.9 C11.4 2.2 8.3 8.9 1.5 11.2" fill="none" stroke="#c8626c" stroke-width="0.9" stroke-linecap="round"/></g>
<g transform="translate(531.5 690.4) rotate(-28) scale(1 1)"><ellipse cx="0" cy="0" rx="20.5" ry="11" fill="#a8303c" stroke="#932534" stroke-width="1"/><ellipse cx="0" cy="0" rx="12.3" ry="6.6" fill="#ad3540"/><path d="M-12.1 1.3 C-12.9 -4.0 -3.7 -7.1 7.4 -5.3 C1.8 -3.3 -4.3 -0.7 -3.7 4.9 C-7.4 4.9 -11.1 3.6 -12.1 1.3 Z" fill="#7f1d2b"/><path d="M11.1 -2.3 C13.5 1.3 9.8 5.3 1.8 6.6" fill="none" stroke="#c8626c" stroke-width="0.9" stroke-linecap="round"/></g>
<circle cx="299.4" cy="557.3" r="21.9" fill="#b4bce2" stroke="#8a8ee0" stroke-width="1"/>
<circle cx="302.6" cy="556.4" r="13.1" fill="#9898d2" stroke="#8888c6" stroke-width="0.8"/>
<ellipse cx="174.9" cy="672" rx="22.9" ry="25.3" fill="#b4bce2" stroke="#8a8ee0" stroke-width="1"/>
<circle cx="176" cy="667.8" r="14.2" fill="#9898d2" stroke="#8888c6" stroke-width="0.8"/>
<path d="M375.7 576.1 C380.3 575.6 384.6 577.4 388.0 581.0 C391.4 584.6 395.3 592.7 395.8 598.0 C396.3 603.3 393.7 609.0 390.8 613.0 C387.9 617.0 381.6 619.3 378.2 621.8 C374.8 624.3 372.6 625.4 370.7 628.1 C368.8 630.8 367.5 634.4 366.9 638.2 C366.3 642.0 367.7 646.9 366.9 650.8 C366.1 654.7 364.0 659.6 361.9 661.6 C359.8 663.6 356.6 663.6 354.3 662.6 C352.0 661.6 348.8 658.6 348.0 655.8 C347.2 653.0 347.8 648.6 349.3 645.7 C350.8 642.8 354.7 641.6 356.8 638.2 C358.9 634.9 361.5 629.8 361.9 625.6 C362.3 621.4 360.4 617.6 359.4 613.0 C358.3 608.4 355.4 602.8 355.6 598.0 C355.8 593.2 357.2 587.8 360.6 584.1 C364.0 580.5 371.1 576.6 375.7 576.1 Z" fill="#b6bde3" stroke="#8a8ee0" stroke-width="1"/>
<path d="M372.6 589.6 C379.5 589.6 384.2 595 383.6 601.5 C383 609 376 615.5 368.6 622.2 C365.5 616 362 608.5 362 600.5 C362 594 366.5 589.6 372.6 589.6 Z" fill="#9898d2" stroke="#8888c6" stroke-width="0.8"/>
<g fill="#62964f"><path d="M313.9 573.4 L314.9 575.2 L312.8 575.2 Z"/><path d="M316.1 575.3 L317.2 577.1 L315.0 577.1 Z"/><path d="M323.0 574.9 L324.4 577.4 L321.5 577.4 Z"/><path d="M326.1 574.4 L327.6 576.9 L324.6 576.9 Z"/><path d="M330.8 575.5 L331.9 577.4 L329.6 577.4 Z"/><path d="M320.1 577.1 L321.1 578.9 L319.1 578.9 Z"/><path d="M328.9 577.9 L330.0 579.7 L327.9 579.7 Z"/><path d="M331.3 577.4 L332.4 579.2 L330.2 579.2 Z"/><path d="M337.5 579.2 L338.6 581.2 L336.3 581.2 Z"/><path d="M340.7 578.3 L341.8 580.1 L339.7 580.1 Z"/><path d="M346.0 579.1 L347.1 580.8 L345.0 580.8 Z"/><path d="M321.2 581.7 L322.3 583.5 L320.2 583.5 Z"/><path d="M325.1 582.6 L326.2 584.4 L324.0 584.4 Z"/><path d="M329.1 583.3 L330.3 585.3 L327.9 585.3 Z"/><path d="M333.9 582.2 L335.1 584.3 L332.7 584.3 Z"/><path d="M338.7 581.0 L339.7 582.8 L337.7 582.8 Z"/><path d="M343.2 582.7 L344.5 585.0 L341.8 585.0 Z"/><path d="M348.7 582.5 L349.7 584.3 L347.6 584.3 Z"/><path d="M323.8 585.8 L325.0 587.9 L322.5 587.9 Z"/><path d="M327.7 585.7 L328.8 587.7 L326.5 587.7 Z"/><path d="M333.8 587.0 L335.0 589.2 L332.5 589.2 Z"/><path d="M336.4 584.6 L337.8 587.0 L335.0 587.0 Z"/><path d="M342.1 585.4 L343.4 587.7 L340.7 587.7 Z"/><path d="M345.9 586.3 L347.1 588.4 L344.7 588.4 Z"/><path d="M326.1 589.1 L327.4 591.2 L324.9 591.2 Z"/><path d="M331.1 590.2 L332.3 592.2 L329.9 592.2 Z"/><path d="M335.0 590.4 L336.1 592.4 L333.8 592.4 Z"/><path d="M339.8 590.5 L341.3 593.0 L338.3 593.0 Z"/><path d="M344.4 590.0 L345.5 591.8 L343.3 591.8 Z"/><path d="M328.9 594.2 L329.9 596.0 L327.9 596.0 Z"/><path d="M331.6 593.6 L332.7 595.5 L330.5 595.5 Z"/><path d="M330.1 596.6 L331.3 598.6 L328.9 598.6 Z"/><path d="M339.0 596.9 L340.5 599.4 L337.5 599.4 Z"/><path d="M332.8 600.3 L334.2 602.8 L331.4 602.8 Z"/><path d="M336.5 601.4 L337.6 603.3 L335.3 603.3 Z"/></g>
<g fill="none" stroke="#1d1d1f" stroke-width="0.9"><path d="M302.2 586.5 C301 593 303.5 600 309 604.2"/><path d="M305.6 584.4 C311 588 314.5 594 315 600.5"/></g>
<path d="M301.6 583.4 L300.4 588.6 L304.4 587.6 Z" fill="#1d1d1f"/><path d="M315.5 604 L312.8 599.6 L317.2 599.4 Z" fill="#1d1d1f"/>
<g stroke="#2f3b70" stroke-width="1.2" fill="#2f3b70"><line x1="231" y1="531" x2="271.3" y2="613.6"/><circle cx="271.3" cy="613.8" r="2.5" stroke="none"/><line x1="404.8" y1="498" x2="388.4" y2="570"/><circle cx="388.3" cy="570.3" r="3.2" stroke="none"/></g>
</g>

<!-- ================= TEXT ================= -->
<g id="labels">
<text class="t14" x="386" y="54.2" textLength="118.5" lengthAdjust="spacingAndGlyphs">Immune trigger</text>
<text class="t14" x="419.2" y="208.4" textLength="62" lengthAdjust="spacingAndGlyphs">Leakage</text>
<text class="t14" x="433.3" y="240.9" textLength="120" lengthAdjust="spacingAndGlyphs">Abnormal blood</text>
<text class="t14" x="433.5" y="258.8" textLength="102" lengthAdjust="spacingAndGlyphs">vessel growth</text>
<text class="t14" x="418.6" y="291.5" textLength="91" lengthAdjust="spacingAndGlyphs">Blood vessel</text>
<text class="t14" x="418" y="309.8" textLength="60.5" lengthAdjust="spacingAndGlyphs">swelling</text>

<text class="title" x="129.5" y="422.7" textLength="421" lengthAdjust="spacingAndGlyphs">Blood-retinal barrier breakdown</text>

<text class="t13" x="68.6" y="476.5" textLength="40" lengthAdjust="spacingAndGlyphs">IL-6 +</text>
<text class="t13" x="68.6" y="494.7" textLength="39.5" lengthAdjust="spacingAndGlyphs">VEGF</text>
<text class="t13" x="195" y="468.3" textLength="96.8" lengthAdjust="spacingAndGlyphs">Loosening of</text>
<text class="t13" x="195" y="486.2" textLength="83.8" lengthAdjust="spacingAndGlyphs">endothelial</text>
<text class="t13" x="195" y="503" textLength="109" lengthAdjust="spacingAndGlyphs">tight junctions</text>
<text class="t13" x="380" y="485" textLength="62" lengthAdjust="spacingAndGlyphs">Leakage</text>
<text class="t12" x="323.4" y="550.9" textLength="61.6" lengthAdjust="spacingAndGlyphs">Cytokines</text>
</g>

<!-- ================= STRAIGHT ARROWS ================= -->
<g id="arrows" fill="#222224">
<path d="M129.5 481 L142 480.25 L166 480.25 L166 481.75 L142 481.75 Z"/>
<path d="M174.3 481 L165.2 476.5 L165.2 485.5 Z"/>
<path d="M290 481.9 L306 481.15 L362 481.15 L362 482.65 L306 482.65 Z"/>
<path d="M370.6 481.9 L361.5 477.5 L361.5 486.3 Z"/>
</g>

</svg>
</body>
</html>
